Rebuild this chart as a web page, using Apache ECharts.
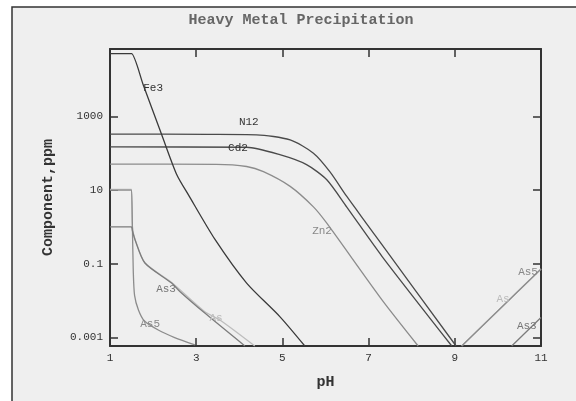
<!DOCTYPE html>
<html><head><meta charset="utf-8">
<script src="https://cdn.jsdelivr.net/npm/echarts@6/dist/echarts.min.js"></script>
<style>html,body{margin:0;padding:0;background:#fff}#c{width:576px;height:401px}</style>
</head><body><div id="c"></div>
<script>
const chartTitle = 'Heavy Metal Precipitation';
const xName = 'pH';
const yName = 'Component,ppm';
const xMin = 1, xMax = 11, xStep = 2;
const yMinPPM = 0.00059, yMaxPPM = 67000;
const yTickValues = [0.001, 0.1, 10, 1000];
const yTickLabels = ['0.001', '0.1', '10', '1000'];

// curves: pH and ppm (null = break)
const fe3PH  = [1, 1.48, 1.5, 1.77, 2.2, 2.55, 2.82, 3.44, 4.17, 4.94, 5.52];
const fe3PPM = [50000, 50000, 50000, 7200, 316, 26, 7.4, 0.45, 0.030, 0.0037, 0.00059];

const ni2PH  = [1, 3.27, 4.4, 5.18, 5.72, 6.1, 6.49, 6.96, 7.31, 9.03];
const ni2PPM = [331, 324, 316, 229, 100, 31.6, 6.8, 1.2, 0.33, 0.00059];

const cd2PH  = [1, 4.17, 4.94, 5.56, 6.03, 6.49, 7.31, 8.93];
const cd2PPM = [148, 145, 91, 49, 19, 3.5, 0.16, 0.00059];

const zn2PH  = [1, 3.47, 4.17, 4.56, 5.18, 5.72, 6.03, 7.31, 8.15];
const zn2PPM = [50.7, 50, 43.6, 31.6, 12.6, 3.5, 1.26, 0.0105, 0.00059];

const as5PH  = [1, 1.48, 1.5, 1.52, 1.54, 1.57, 1.66, 1.8, 2.12, 2.5, 2.97, 6, 9.16, 11];
const as5PPM = [10, 10, 10, 1, 0.063, 0.014, 0.0056, 0.0028, 0.0016, 0.001, 0.00063, null, 0.00059, 0.072];

const as3PH  = [1, 1.48, 1.5, 1.52, 1.58, 1.81, 2.43, 2.62, 3.2, 4.13, 7, 10.32, 11];
const as3PPM = [1, 1, 1, 0.79, 0.45, 0.105, 0.030, 0.0178, 0.0046, 0.00059, null, 0.00059, 0.0035];

const asPH   = [1, 1.48, 1.5, 1.52, 1.58, 1.81, 2.43, 3.2, 3.55, 4.36, 7, 9.16, 11];
const asPPM  = [10.5, 10.5, 10.5, 1, 0.47, 0.107, 0.031, 0.005, 0.003, 0.00059, null, 0.00059, 0.072];

// curve labels: text, pH, ppm
const labelText = ['Fe3', 'N12', 'Cd2', 'Zn2', 'As3', 'As5', 'As', 'As5', 'As', 'As3'];
const labelPH   = [2.0, 4.22, 3.97, 5.92, 2.30, 1.93, 3.46, 10.70, 10.12, 10.67];
const labelPPM  = [6000, 708, 141, 0.79, 0.021, 0.0023, 0.0034, 0.060, 0.011, 0.0021];
const labelSeries = ['Fe3', 'Ni2', 'Cd2', 'Zn2', 'As3', 'As5', 'As', 'As5', 'As', 'As3'];

const lg = v => (v === null ? null : Math.log10(v));
const pts = (xs, ys) => xs.map((x, i) => [x, lg(ys[i])]);

const styles = {
  Fe3: { color: '#3a3a3a', label: '#333' },
  Ni2: { color: '#4a4a4a', label: '#333' },
  Cd2: { color: '#4a4a4a', label: '#333' },
  Zn2: { color: '#8c8c8c', label: '#888' },
  As3: { color: '#7c7c7c', label: '#777' },
  As5: { color: '#8c8c8c', label: '#888' },
  As:  { color: '#bdbdbd', label: '#bbb' }
};
const curves = {
  Fe3: pts(fe3PH, fe3PPM), Ni2: pts(ni2PH, ni2PPM), Cd2: pts(cd2PH, cd2PPM),
  Zn2: pts(zn2PH, zn2PPM), As5: pts(as5PH, as5PPM), As3: pts(as3PH, as3PPM), As: pts(asPH, asPPM)
};
const order = ['As', 'As5', 'As3', 'Zn2', 'Cd2', 'Ni2', 'Fe3'];
const mono = '"Liberation Mono", "DejaVu Sans Mono", monospace';

const series = order.map(name => ({
  type: 'line', name, data: curves[name], showSymbol: false, symbol: 'none',
  connectNulls: false, clip: true, smooth: 0.25,
  lineStyle: { color: styles[name].color, width: 1.3 },
  markPoint: {
    symbol: 'circle', symbolSize: 0, silent: true,
    data: labelText.map((t, i) => ({ t, i })).filter(o => labelSeries[o.i] === name).map(o => ({
      coord: [labelPH[o.i], lg(labelPPM[o.i])], value: o.t,
      label: { show: true, position: 'inside', formatter: o.t, color: styles[name].label,
               fontFamily: mono, fontSize: 11 }
    }))
  }
}));

const ticksLog = yTickValues.map(lg);
const yLabelMap = {};
ticksLog.forEach((v, i) => { yLabelMap[v.toFixed(6)] = yTickLabels[i]; });

const axisLine = { show: true, onZero: false, lineStyle: { color: '#333', width: 2 } };
const tickIn = { show: true, inside: true, length: 8, lineStyle: { color: '#333', width: 1.5 } };

const chart = echarts.init(document.getElementById('c'));
chart.setOption({
  animation: false,
  backgroundColor: '#fff',
  graphic: [{ type: 'rect', z: -100, shape: { x: 12, y: 7, width: 620, height: 430 },
              style: { fill: '#efefef', stroke: '#333', lineWidth: 1.5 } }],
  title: { text: chartTitle, left: 296, top: 8, textAlign: 'center',
           textStyle: { fontFamily: mono, fontSize: 15, fontWeight: 'bold', color: '#666' } },
  grid: { left: 110, top: 49, right: 35, bottom: 55, containLabel: false },
  xAxis: [{
    type: 'value', min: xMin, max: xMax, interval: xStep, position: 'bottom',
    name: xName, nameLocation: 'middle', nameGap: 29,
    nameTextStyle: { fontFamily: mono, fontSize: 15, fontWeight: 'bold', color: '#333' },
    axisLine, axisTick: tickIn, splitLine: { show: false },
    axisLabel: { fontFamily: mono, fontSize: 11, color: '#333', margin: 7 }
  }, {
    type: 'value', min: xMin, max: xMax, interval: xStep, position: 'top',
    axisLine, axisTick: tickIn, splitLine: { show: false }, axisLabel: { show: false }
  }],
  yAxis: [{
    type: 'value', min: lg(yMinPPM), max: lg(yMaxPPM), position: 'left',
    name: yName, nameLocation: 'middle', nameGap: 54,
    nameTextStyle: { fontFamily: mono, fontSize: 15, fontWeight: 'bold', color: '#333' },
    axisLine, splitLine: { show: false },
    axisTick: Object.assign({}, tickIn, { customValues: ticksLog }),
    axisLabel: { customValues: ticksLog, fontFamily: mono, fontSize: 11, color: '#333', margin: 7,
                 formatter: v => yLabelMap[Number(v).toFixed(6)] || '' }
  }, {
    type: 'value', min: lg(yMinPPM), max: lg(yMaxPPM), position: 'right',
    axisLine, splitLine: { show: false },
    axisTick: Object.assign({}, tickIn, { customValues: ticksLog }),
    axisLabel: { show: false }
  }],
  series
});
</script></body></html>
